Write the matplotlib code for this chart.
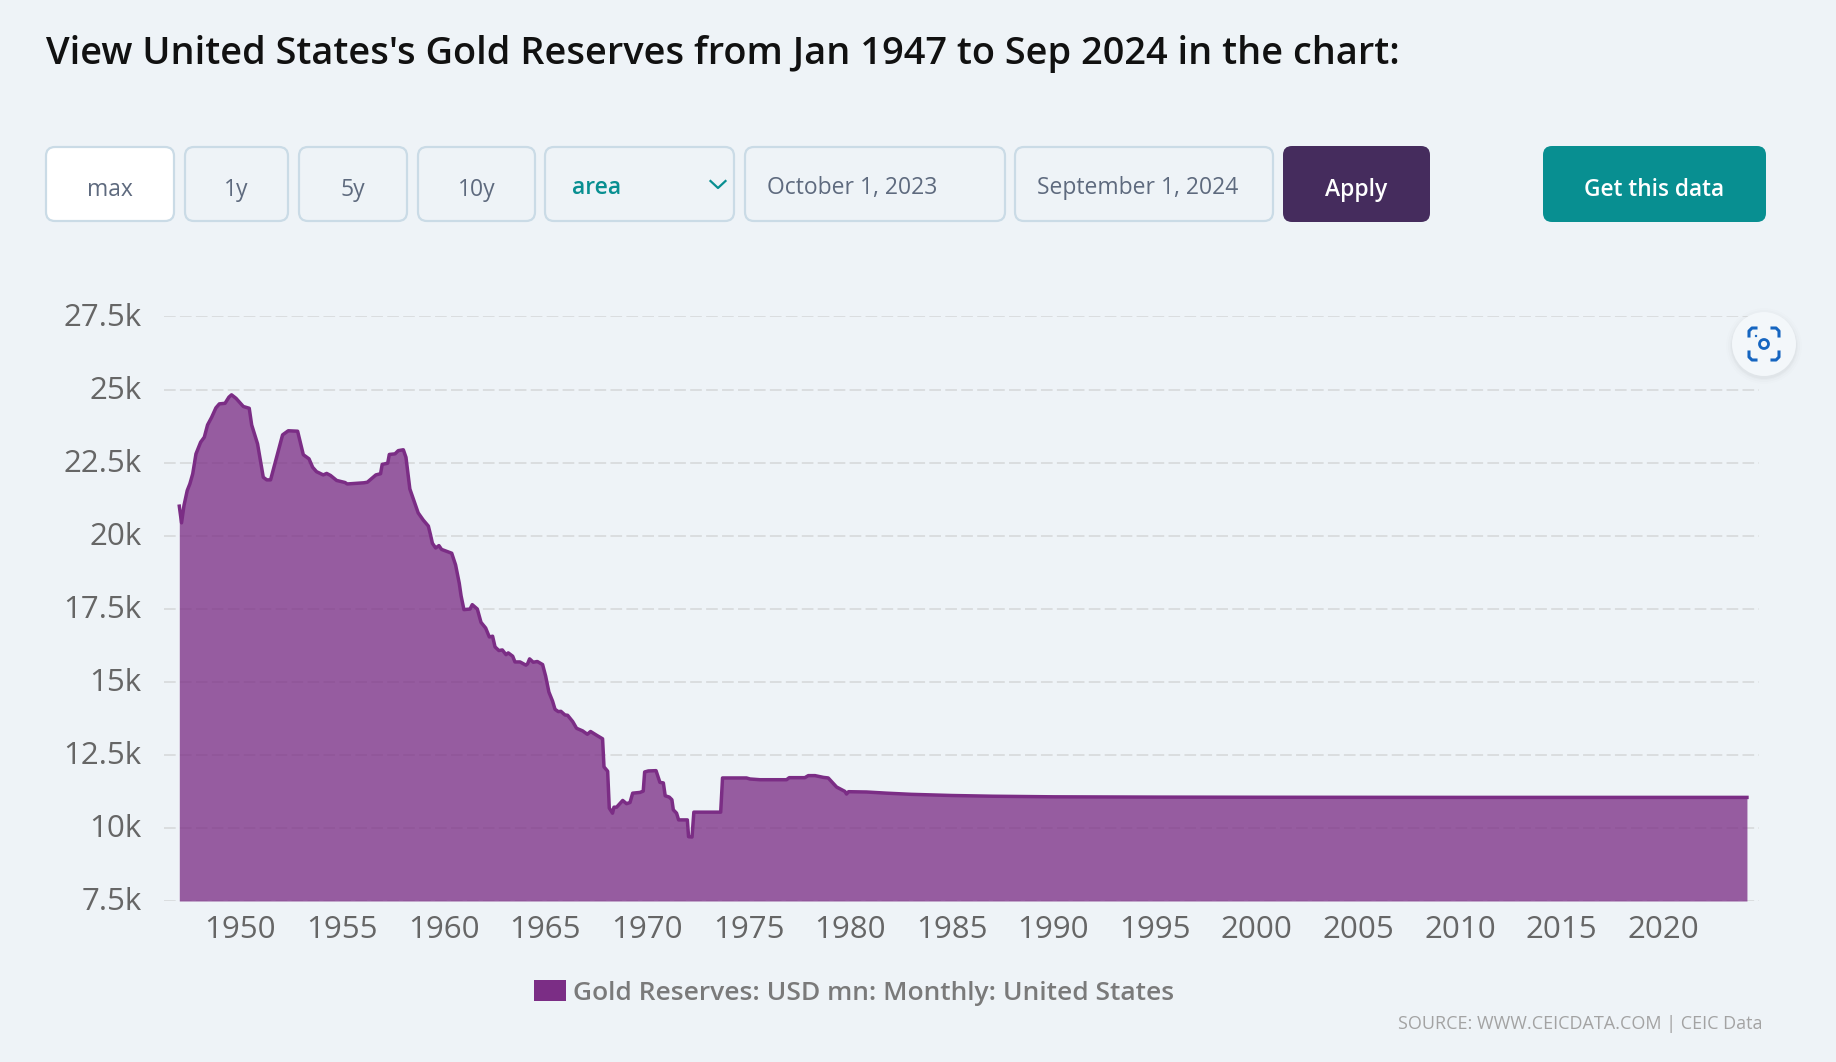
import matplotlib
matplotlib.use("Agg")
import matplotlib.pyplot as plt
from matplotlib.patches import FancyBboxPatch, Circle, Rectangle
from matplotlib.transforms import ScaledTranslation

W, H = 1836, 1062
BG = "#EEF3F7"
PURPLE = "#7B2D85"
BORDER = "#CADBE6"
TEAL = "#088F91"
FONT = "Open Sans"

# values, year as decimal, USD mn
years = [1947.0, 1947.11, 1947.23, 1947.39, 1947.52, 1947.66, 1947.82, 1948.05, 1948.23, 1948.39,
         1948.59, 1948.8, 1948.97, 1949.25, 1949.44, 1949.57, 1949.79, 1950.15, 1950.44, 1950.56,
         1950.85, 1951.13, 1951.3, 1951.49, 1951.7, 1951.9, 1952.08, 1952.36, 1952.82, 1953.1,
         1953.38, 1953.56, 1953.75, 1954.08, 1954.25, 1954.44, 1954.74, 1955.15, 1955.26, 1956.08,
         1956.25, 1956.67, 1956.9, 1956.98, 1957.25, 1957.33, 1957.61, 1957.77, 1958.02, 1958.15,
         1958.34, 1958.75, 1959.0, 1959.25, 1959.36, 1959.45, 1959.61, 1959.77, 1959.9, 1960.4,
         1960.59, 1960.77, 1960.86, 1961.0, 1961.3, 1961.41, 1961.66, 1961.84, 1962.07, 1962.25,
         1962.41, 1962.53, 1962.72, 1962.89, 1963.07, 1963.18, 1963.4, 1963.51, 1963.76, 1964.05,
         1964.13, 1964.23, 1964.41, 1964.61, 1964.87, 1965.02, 1965.18, 1965.36, 1965.48, 1965.64,
         1965.77, 1965.97, 1966.1, 1966.35, 1966.54, 1966.84, 1967.07, 1967.23, 1967.53, 1967.82,
         1967.89, 1968.07, 1968.15, 1968.31, 1968.38, 1968.51, 1968.81, 1969.0, 1969.17, 1969.3,
         1969.66, 1969.82, 1969.89, 1970.07, 1970.45, 1970.64, 1970.81, 1970.9, 1971.1, 1971.23,
         1971.3, 1971.46, 1971.56, 1971.99, 1972.05, 1972.22, 1972.31, 1973.63, 1973.72, 1974.9,
         1975.07, 1975.56, 1976.87, 1977.0, 1977.77, 1977.94, 1978.27, 1978.68, 1978.92, 1979.33,
         1979.74, 1979.82, 1979.92, 1980.8, 1981.79, 1983.0, 1985.0, 1987.0, 1990.0, 1995.0,
         2000.0, 2010.0, 2024.11]
reserves = [21010, 20440, 21030, 21546, 21774, 22116, 22800, 23200, 23370, 23790,
            24050, 24373, 24510, 24530, 24740, 24820, 24700, 24420, 24360, 23790,
            23140, 22000, 21910, 21910, 22460, 22970, 23450, 23590, 23575, 22770,
            22630, 22340, 22190, 22080, 22130, 22060, 21890, 21820, 21770, 21810,
            21830, 22080, 22120, 22440, 22480, 22780, 22800, 22910, 22940, 22680,
            21600, 20780, 20534, 20330, 20020, 19740, 19580, 19660, 19530, 19400,
            19000, 18375, 17945, 17470, 17490, 17640, 17490, 17035, 16840, 16535,
            16560, 16195, 16070, 16090, 15930, 15990, 15875, 15680, 15680, 15570,
            15615, 15785, 15670, 15695, 15590, 15195, 14650, 14340, 14060, 13980,
            13990, 13865, 13855, 13640, 13410, 13320, 13205, 13300, 13170, 13050,
            12090, 11940, 10680, 10505, 10710, 10710, 10940, 10830, 10870, 11190,
            11215, 11260, 11915, 11950, 11960, 11560, 11540, 11100, 11055, 10965,
            10620, 10505, 10275, 10275, 9700, 9690, 10540, 10540, 11710, 11710,
            11675, 11650, 11650, 11720, 11720, 11790, 11790, 11730, 11710, 11400,
            11250, 11160, 11240, 11230, 11190, 11150, 11110, 11085, 11065, 11055,
            11050, 11045, 11045]

y_ticks = [7500, 10000, 12500, 15000, 17500, 20000, 22500, 25000, 27500]
y_labels = ["7.5k", "10k", "12.5k", "15k", "17.5k", "20k", "22.5k", "25k", "27.5k"]
x_ticks = list(range(1950, 2021, 5))

buttons = ["max", "1y", "5y", "10y"]
button_edges = [(46, 174), (185, 288), (299, 407), (418, 535)]
dates = ["October 1, 2023", "September 1, 2024"]
date_edges = [(745, 1005), (1015, 1273)]

plt.rcParams["font.family"] = [FONT, "DejaVu Sans"]
fig = plt.figure(figsize=(W / 100, H / 100), dpi=100, facecolor=BG)

# plot area in pixels
left, right, top, bottom = 164, 1759, 316.5, 901
ax = fig.add_axes([left / W, 1 - bottom / H, (right - left) / W, (bottom - top) / H])
ax.set_facecolor("none")
px_per_year = 20.33
ax.set_xlim(1947 + (left - 179.3) / px_per_year, 1947 + (right - 179.3) / px_per_year)
ax.set_ylim(7500, 27500)

ax.grid(True, axis="y", color="#DADDDF", linewidth=1.4, linestyle=(0, (6, 2.2)), zorder=1)
ax.set_axisbelow(True)
ax.fill_between(years, reserves, 7500, color=PURPLE, alpha=0.76, linewidth=0, zorder=2)
ax.plot(years, reserves, color=PURPLE, linewidth=2.5, zorder=3, solid_joinstyle="round")

for side in ax.spines:
    ax.spines[side].set_visible(False)
ax.set_yticks(y_ticks, y_labels)
ax.set_xticks(x_ticks, [str(y) for y in x_ticks])
ax.tick_params(axis="both", length=0, labelsize=22.5, labelcolor="#666666")
ax.tick_params(axis="y", pad=16)
ax.tick_params(axis="x", pad=10)
# y labels sit a little higher than the default centring
nudge = ScaledTranslation(0, 2 / 100, fig.dpi_scale_trans)
for lab in ax.get_yticklabels():
    lab.set_transform(lab.get_transform() + nudge)

# overlay in pixel coordinates for the page controls
ui = fig.add_axes([0, 0, 1, 1], zorder=5)
ui.set_xlim(0, W)
ui.set_ylim(H, 0)
ui.axis("off")
ui.patch.set_alpha(0)


def box(x0, x1, y0=147, y1=221, face=BG, edge=BORDER, r=9):
    ui.add_patch(FancyBboxPatch((x0 + r, y0 + r), x1 - x0 - 2 * r, y1 - y0 - 2 * r,
                                boxstyle=f"round,pad={r},rounding_size={r}",
                                facecolor=face, edgecolor=edge, linewidth=1.6))


ui.text(46, 54, "View United States's Gold Reserves from Jan 1947 to Sep 2024 in the chart:",
        fontsize=27.35, fontweight=600, color="#111111", va="center", ha="left")

for i, (label, (x0, x1)) in enumerate(zip(buttons, button_edges)):
    box(x0, x1, face="white" if i == 0 else BG)
    ui.text((x0 + x1) / 2, 190, label, fontsize=16.5, color="#5E6A7E", ha="center", va="center")

box(545, 734)
ui.text(572, 188, "area", fontsize=16.5, color=TEAL, fontweight=600, ha="left", va="center")
ui.plot([710.5, 718, 725.5], [181, 188, 181], color=TEAL, linewidth=1.6)

for label, (x0, x1) in zip(dates, date_edges):
    box(x0, x1)
    ui.text(x0 + 22, 188, label, fontsize=16.5, color="#5E6A7E", ha="left", va="center")

box(1283, 1430, 146, 222, face="#452C5D", edge="none")
ui.text(1356.5, 190, "Apply", fontsize=16.5, fontweight=600, color="white", ha="center", va="center")
box(1543, 1766, 146, 222, face=TEAL, edge="none")
ui.text(1654.5, 190, "Get this data", fontsize=16.3, fontweight=600, color="white", ha="center", va="center")

# screenshot button
for extra, a in [(6, 0.006), (4, 0.01), (2, 0.016), (1, 0.02)]:
    ui.add_patch(Circle((1764, 346), 32 + extra, facecolor="#000000", edgecolor="none", alpha=a))
ui.add_patch(Circle((1764, 344), 32, facecolor="#F3F7FA", edgecolor="none"))
icon = "#1565C0"
ui.plot([1749, 1749, 1752, 1756], [336, 331, 328, 328], color=icon, linewidth=2.2)
ui.plot([1772, 1776, 1779, 1779], [328, 328, 331, 336], color=icon, linewidth=2.2)
ui.plot([1749, 1749, 1752, 1756], [352, 357, 360, 360], color=icon, linewidth=2.2)
ui.plot([1772, 1776, 1779, 1779], [360, 360, 357, 352], color=icon, linewidth=2.2)
ui.add_patch(Circle((1764, 344), 4.5, facecolor="none", edgecolor=icon, linewidth=2))
ui.add_patch(Circle((1756, 336), 1.2, facecolor=icon, edgecolor="none"))

# legend and source
ui.add_patch(Rectangle((533.5, 980), 32, 21, facecolor=PURPLE, edgecolor="none"))
ui.text(573, 994, "Gold Reserves: USD mn: Monthly: United States", fontsize=19,
        fontweight=600, color="#7A7A7A", ha="left", va="center")
ui.text(1762, 1024, "SOURCE: WWW.CEICDATA.COM | CEIC Data", fontsize=13,
        color="#A3A3A3", ha="right", va="center")

fig.savefig("out.png", dpi=100, facecolor=BG)
